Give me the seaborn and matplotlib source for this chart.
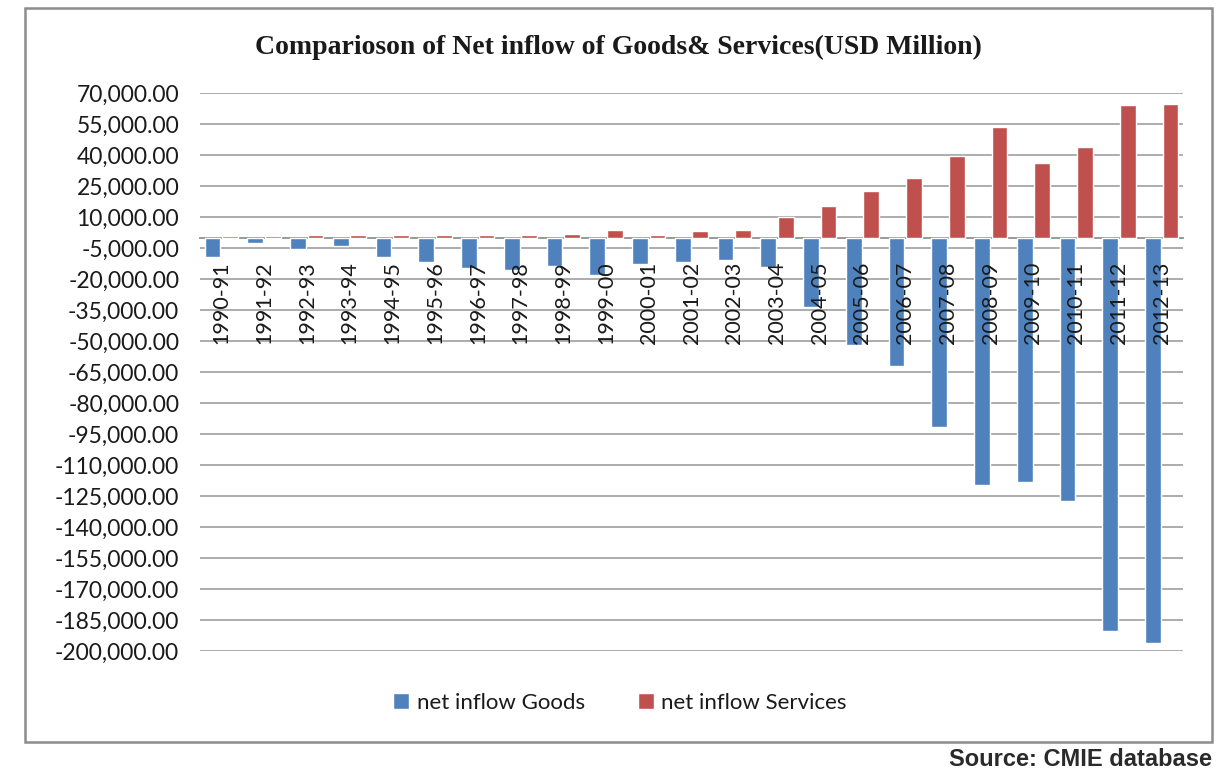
import matplotlib
matplotlib.use("Agg")
import matplotlib.pyplot as plt
from matplotlib.patches import Rectangle
from matplotlib.ticker import FixedLocator, FuncFormatter
import numpy as np
import pandas as pd
import seaborn as sns

# Net inflow by fiscal year, USD million
years = ["1990-91", "1991-92", "1992-93", "1993-94", "1994-95", "1995-96",
         "1996-97", "1997-98", "1998-99", "1999-00", "2000-01", "2001-02",
         "2002-03", "2003-04", "2004-05", "2005-06", "2006-07", "2007-08",
         "2008-09", "2009-10", "2010-11", "2011-12", "2012-13"]
goods = [-9200, -2700, -5500, -4000, -9200, -11600, -14500, -15600, -13400,
         -18200, -12600, -11600, -10900, -14000, -33400, -51900, -61900,
         -91700, -119600, -118300, -127200, -190100, -196200]
services = [800, 800, 1300, 1300, 1300, 1300, 1300, 1300, 1900, 3700, 1300,
            3100, 3700, 10200, 15500, 22700, 29200, 39500, 53600, 36300,
            44000, 64200, 64800]
series_names = ["net inflow Goods", "net inflow Services"]
y_ticks = list(range(70000, -200001, -15000))

df = pd.DataFrame({
    "year": years * 2,
    "value": goods + services,
    "series": [series_names[0]] * len(years) + [series_names[1]] * len(years),
})

sns.set_theme(style="white")
plt.rcParams["font.family"] = ["Lato", "DejaVu Sans"]

fig = plt.figure(figsize=(12.23, 7.72), dpi=100)
ax = fig.add_axes([200 / 1223, 1 - 651 / 772, 983 / 1223, (651 - 93.3) / 772])

sns.barplot(data=df, x="year", y="value", hue="series",
            palette=["#4F81BD", "#C0504D"], saturation=1,
            width=0.82, gap=0.1, ax=ax)

ax.set_ylim(-200000, 70000)
ax.set_xlim(-0.5, len(years) - 0.5)
ax.yaxis.set_major_locator(FixedLocator(y_ticks))
ax.yaxis.set_major_formatter(FuncFormatter(lambda v, p: f"{v:,.2f}".replace("\u2212", "-")))
ax.grid(axis="y", color="#a6a6a6", linewidth=1.3)
ax.grid(axis="x", visible=False)
# gridlines sit behind the bars, category labels are drawn over them
ax.set_axisbelow(True)
ax.xaxis.set_zorder(5)

for side in ["top", "right", "left"]:
    ax.spines[side].set_visible(False)
ax.spines["bottom"].set_position(("data", 0))
ax.spines["bottom"].set_color("#999999")
ax.spines["bottom"].set_linewidth(1.4)
ax.spines["bottom"].set_zorder(0.6)

ax.set_xlabel("")
ax.set_ylabel("")
ax.tick_params(axis="y", length=0, pad=15, labelsize=16.5, labelcolor="#1a1a1a")
ax.tick_params(axis="x", length=0, pad=17, labelsize=15.5, labelcolor="#1a1a1a",
               labelrotation=90)

handles, labels = ax.get_legend_handles_labels()
ax.get_legend().remove()
fig.legend(handles, labels, loc="center", bbox_to_anchor=(620 / 1223, 1 - 703 / 772),
           ncol=2, frameon=False, fontsize=16, handlelength=0.7, handleheight=0.7,
           handletextpad=0.35, columnspacing=2.4, labelcolor="#1a1a1a")

fig.text(618 / 1223, 1 - 47 / 772, "Comparioson of Net inflow of Goods& Services(USD Million)",
         ha="center", va="center", fontsize=20, fontweight="bold",
         family=["Liberation Serif", "DejaVu Serif"], color="#1a1a1a")

fig.patches.append(Rectangle((25 / 1223, 1 - 742 / 772), (1212 - 25) / 1223, (742 - 8) / 772,
                             transform=fig.transFigure, fill=False,
                             edgecolor="#8c8c8c", linewidth=1.8))

fig.text(1212 / 1223, 1 - 760 / 772, "Source: CMIE database", ha="right", va="center",
         fontsize=17, fontweight="bold", family=["Liberation Sans", "DejaVu Sans"],
         color="#2a2a2a")

fig.savefig("out.png", dpi=100)
